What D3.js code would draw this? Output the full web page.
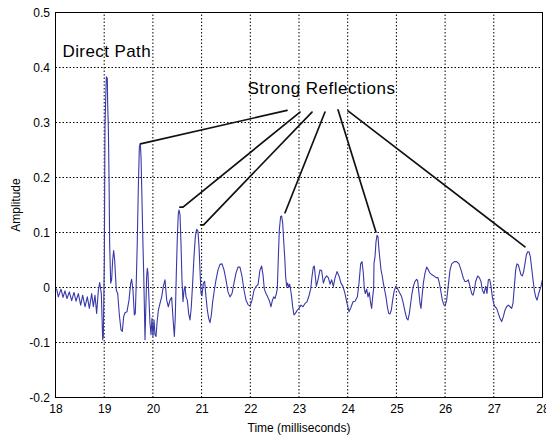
<!DOCTYPE html>
<html>
<head>
<meta charset="utf-8">
<script src="https://cdn.jsdelivr.net/npm/d3@7/dist/d3.min.js"></script>
<style>
  body { margin: 0; background: #fff; }
  svg { display: block; }
  text { font-family: "Liberation Sans", Arial, Helvetica, sans-serif; fill: #000; }
</style>
</head>
<body>
<svg id="chart" width="546" height="437"></svg>
<script>
// Measured impulse response: time in milliseconds, amplitude (linear)
const timeMs = [
  18.000, 18.024, 18.058, 18.113, 18.154, 18.195, 18.236, 18.284, 18.332, 18.380,
  18.421, 18.469, 18.517, 18.558, 18.606, 18.654, 18.695, 18.743, 18.777, 18.811,
  18.845, 18.880, 18.907, 18.941, 18.969, 18.982, 19.003, 19.016, 19.030, 19.044,
  19.064, 19.071, 19.085, 19.099, 19.112, 19.133, 19.153, 19.174, 19.194, 19.215,
  19.229, 19.249, 19.277, 19.311, 19.345, 19.372, 19.400, 19.427, 19.468, 19.509,
  19.544, 19.564, 19.591, 19.619, 19.639, 19.660, 19.680, 19.701, 19.722, 19.742,
  19.756, 19.776, 19.797, 19.811, 19.825, 19.838, 19.852, 19.872, 19.886, 19.899,
  19.920, 19.940, 19.961, 19.981, 20.002, 20.023, 20.043, 20.064, 20.084, 20.112,
  20.146,
  20.180, 20.214, 20.248, 20.283, 20.317, 20.351, 20.385, 20.420, 20.440, 20.460,
  20.481, 20.502, 20.522, 20.536, 20.557, 20.577, 20.597, 20.618, 20.639, 20.659,
  20.680, 20.707, 20.734, 20.762, 20.789, 20.816, 20.844, 20.871, 20.899, 20.926,
  20.947, 20.967, 20.988, 21.008, 21.036, 21.063, 21.090, 21.118, 21.145, 21.172,
  21.200, 21.227, 21.261, 21.296, 21.337, 21.378, 21.419, 21.460, 21.501, 21.542,
  21.583, 21.624, 21.665, 21.706, 21.747, 21.788, 21.830, 21.871, 21.912, 21.953,
  21.994, 22.035, 22.076, 22.117, 22.158,
  22.199, 22.233, 22.261, 22.288, 22.322, 22.357, 22.391, 22.425, 22.452, 22.480,
  22.507, 22.535, 22.555, 22.576, 22.596, 22.623, 22.644, 22.665, 22.685, 22.706,
  22.726, 22.747, 22.767, 22.788, 22.808, 22.829, 22.849, 22.870, 22.897, 22.925,
  22.959, 23.000, 23.041, 23.082, 23.123, 23.164, 23.205, 23.240, 23.267, 23.294,
  23.315, 23.335, 23.356, 23.390, 23.431, 23.465, 23.500, 23.534, 23.568, 23.602,
  23.637, 23.671, 23.705, 23.739, 23.780, 23.821, 23.862, 23.903, 23.945, 23.986,
  24.027, 24.068, 24.109,
  24.150, 24.198, 24.232, 24.266, 24.294, 24.321, 24.342, 24.362, 24.389, 24.417,
  24.444, 24.472, 24.492, 24.513, 24.533, 24.540, 24.561, 24.581, 24.602, 24.622,
  24.643, 24.663, 24.684, 24.711, 24.732, 24.759, 24.786, 24.814, 24.841, 24.869,
  24.896, 24.923, 24.951, 24.985, 25.012, 25.040, 25.074, 25.108, 25.142, 25.177,
  25.211, 25.238, 25.266, 25.293, 25.320, 25.348, 25.382, 25.416, 25.437, 25.457,
  25.485, 25.505, 25.526, 25.553, 25.587, 25.622, 25.656, 25.690, 25.731, 25.772,
  25.813, 25.854, 25.882, 25.909, 25.943, 25.977, 26.005, 26.032,
  26.101, 26.135, 26.190, 26.238, 26.285, 26.327, 26.374, 26.409, 26.443, 26.477,
  26.511, 26.546, 26.573, 26.600, 26.628, 26.669, 26.703, 26.737, 26.765, 26.799,
  26.833, 26.860, 26.888, 26.915, 26.943, 26.970, 26.997, 27.025, 27.059, 27.093,
  27.127, 27.162, 27.196, 27.230, 27.264, 27.298, 27.333, 27.367, 27.394, 27.422,
  27.449, 27.476, 27.504, 27.531, 27.559, 27.586, 27.613, 27.641, 27.668, 27.695,
  27.723, 27.750, 27.778, 27.805, 27.832, 27.860, 27.887, 27.914, 27.942, 27.969,
  27.997
];

const amplitude = [
  -0.002, -0.003, -0.017, -0.003, -0.018, -0.006, -0.020, -0.008, -0.024, -0.009,
  -0.025, -0.011, -0.032, -0.014, -0.035, -0.017, -0.038, -0.011, -0.035, -0.014,
  -0.047, -0.005,  0.009, -0.011, -0.095, -0.089,  0.050,  0.292,  0.341,  0.383,
   0.380,  0.335,  0.292,  0.202,  0.080,  0.008,  0.014,  0.050,  0.067,  0.050,
   0.026, -0.005, -0.011, -0.050, -0.077, -0.080, -0.053, -0.046, -0.044, -0.023,
   0.008,  0.015, -0.005, -0.050, -0.047,  0.014,  0.086,  0.183,  0.256,  0.261,
   0.238,  0.159,  0.074,  0.026, -0.035, -0.095, -0.047,  0.020,  0.035,  0.026,
  -0.023, -0.065, -0.086, -0.056, -0.089, -0.059, -0.086, -0.089, -0.065, -0.041,
  -0.029,
  -0.017,  0.002,  0.014, -0.023, -0.035, -0.023, -0.018, -0.065, -0.089, -0.053,
   0.026,  0.092,  0.135,  0.141,  0.132,  0.080,  0.014, -0.026, -0.005,  0.002,
  -0.017, -0.023, -0.047, -0.059, -0.035,  0.008,  0.056,  0.092,  0.106,  0.102,
   0.074,  0.032, -0.011, -0.015,  0.008,  0.011, -0.017, -0.041, -0.056, -0.064,
  -0.050, -0.026, -0.005,  0.014,  0.032,  0.042,  0.043,  0.032,  0.014, -0.008,
  -0.017, -0.011,  0.008,  0.026,  0.037,  0.037,  0.020, -0.005, -0.023, -0.031,
  -0.034, -0.023, -0.005,  0.002,  0.005,
   0.032,  0.039,  0.023, -0.003, -0.011, -0.017, -0.024, -0.035, -0.024, -0.017,
  -0.020, -0.011, -0.002,  0.056,  0.105,  0.129,  0.130,  0.117,  0.086,  0.056,
   0.020,  0.002,  0.008,  0.000,  0.006, -0.005, -0.017, -0.035, -0.050, -0.047,
  -0.042, -0.038, -0.032, -0.035, -0.029, -0.026, -0.015, -0.003,  0.020,  0.037,
   0.039,  0.020,  0.002,  0.014,  0.032,  0.031,  0.008,  0.017,  0.021,  0.018,
   0.006,  0.014,  0.002,  0.017,  0.029,  0.021,  0.008,  0.002, -0.011, -0.029,
  -0.044, -0.036, -0.026,
  -0.025, -0.017,  0.008,  0.043,  0.047,  0.026, -0.003, -0.011, -0.003, -0.017,
  -0.009, -0.029, -0.038, -0.017, -0.002,  0.044,  0.056,  0.083,  0.095,  0.092,
   0.068,  0.050,  0.032,  0.020,  0.008, -0.005, -0.017, -0.035, -0.047, -0.048,
  -0.041, -0.023, -0.008,  0.002,  0.000, -0.005, -0.011, -0.017, -0.029, -0.044,
  -0.056, -0.059, -0.047, -0.029, -0.011,  0.002,  0.011,  0.015,  0.012, -0.005,
  -0.029, -0.038, -0.017,  0.008,  0.026,  0.037,  0.032,  0.026,  0.023,  0.021,
   0.018,  0.018,  0.008, -0.005, -0.023, -0.032, -0.032, -0.023,
   0.032,  0.043,  0.047,  0.047,  0.043,  0.032,  0.017,  0.011,  0.011,  0.014,
   0.002, -0.011, -0.014, -0.005,  0.011,  0.021,  0.018,  0.011, -0.005, -0.011,
   0.002, -0.011,  0.014,  0.015,  0.002, -0.017, -0.029, -0.035, -0.038, -0.047,
  -0.056, -0.062, -0.053, -0.041, -0.035, -0.032, -0.035, -0.038, -0.029,  0.002,
   0.032,  0.043,  0.041,  0.032,  0.023,  0.021,  0.029,  0.044,  0.059,  0.065,
   0.065,  0.056,  0.035,  0.014, -0.005, -0.017, -0.023, -0.014, -0.005,  0.002,
   0.014
];

// Axis ticks
const xTickValues = [18, 19, 20, 21, 22, 23, 24, 25, 26, 27, 28];
const xTickLabels = ["18", "19", "20", "21", "22", "23", "24", "25", "26", "27", "28"];
const yTickValues = [-0.2, -0.1, 0, 0.1, 0.2, 0.3, 0.4, 0.5];
const yTickLabels = ["-0.2", "-0.1", "0", "0.1", "0.2", "0.3", "0.4", "0.5"];

// Callouts: each line runs from a reflection peak up to the "Strong Reflections" label
const calloutTipTime = [19.745, 20.556, 20.980, 22.713, 24.580, 27.640];
const calloutTipAmp  = [0.261, 0.146, 0.114, 0.136, 0.101, 0.074];
const calloutTopTime = [22.754, 23.021, 23.267, 23.534, 23.801, 24.006];
const calloutTopAmp  = [0.322, 0.319, 0.319, 0.319, 0.323, 0.321];

const W = 546, H = 437;
const margin = { left: 55.5, right: 3.5, top: 12.5, bottom: 39.5 };

const x = d3.scaleLinear().domain([18, 28]).range([margin.left, W - margin.right]);
const y = d3.scaleLinear().domain([-0.2, 0.5]).range([H - margin.bottom, margin.top]);

const svg = d3.select("#chart");
svg.append("rect").attr("width", W).attr("height", H).attr("fill", "#fff");

// Dotted grid
const grid = svg.append("g").attr("stroke", "#000").attr("stroke-width", 1)
  .attr("stroke-dasharray", "1.5,2");
grid.selectAll("line.gx").data(xTickValues.slice(1, -1)).join("line")
  .attr("x1", d => x(d)).attr("x2", d => x(d))
  .attr("y1", y(-0.2)).attr("y2", y(0.5));
grid.selectAll("line.gy").data(yTickValues.slice(1, -1)).join("line")
  .attr("x1", x(18)).attr("x2", x(28))
  .attr("y1", d => y(d)).attr("y2", d => y(d));

// Waveform
const pts = timeMs.map((t, i) => [t, amplitude[i]]);
svg.append("path")
  .datum(pts)
  .attr("fill", "none")
  .attr("stroke", "#3838a8")
  .attr("stroke-width", 1.1)
  .attr("stroke-linejoin", "round")
  .attr("d", d3.line().x(d => x(d[0])).y(d => y(d[1])));

// Axes
const fontSize = 12;
const xAxis = d3.axisBottom(x).tickValues(xTickValues)
  .tickFormat((d, i) => xTickLabels[i]).tickSize(0).tickPadding(6.5);
const gx = svg.append("g").attr("transform", `translate(0,${y(-0.2)})`).call(xAxis);
gx.select(".domain").remove();
gx.selectAll("text").attr("font-size", fontSize).attr("font-family", null);

const yAxis = d3.axisLeft(y).tickValues(yTickValues)
  .tickFormat((d, i) => yTickLabels[i]).tickSize(0).tickPadding(5.5);
const gy = svg.append("g").attr("transform", `translate(${x(18)},0)`).call(yAxis);
gy.select(".domain").remove();
gy.selectAll("text").attr("font-size", fontSize).attr("font-family", null);

// Frame
svg.append("rect")
  .attr("x", x(18)).attr("y", y(0.5))
  .attr("width", x(28) - x(18)).attr("height", y(-0.2) - y(0.5))
  .attr("fill", "none").attr("stroke", "#000").attr("stroke-width", 1);

// Axis titles
svg.append("text")
  .attr("x", (x(18) + x(28)) / 2).attr("y", 431.5)
  .attr("text-anchor", "middle").attr("font-size", 12)
  .text("Time (milliseconds)");
svg.append("text")
  .attr("transform", `translate(19.5,${(y(-0.2) + y(0.5)) / 2}) rotate(-90)`)
  .attr("text-anchor", "middle").attr("font-size", 12)
  .text("Amplitude");

// Annotations
svg.append("text")
  .attr("x", 62.5).attr("y", 57)
  .attr("font-size", 17).attr("letter-spacing", 0.4)
  .text("Direct Path");
svg.append("text")
  .attr("x", 247.5).attr("y", 94.3)
  .attr("font-size", 17).attr("letter-spacing", 0.5)
  .text("Strong Reflections");

const callouts = svg.append("g").attr("stroke", "#111").attr("stroke-width", 1.7)
  .attr("fill", "none").attr("stroke-linecap", "round");
calloutTipTime.forEach((t, i) => {
  const tx = x(t), ty = y(calloutTipAmp[i]);
  const ux = x(calloutTopTime[i]), uy = y(calloutTopAmp[i]);
  // short horizontal hook at the tip, as drawn on the two middle-left callouts
  const hook = (i === 1 || i === 2) ? [[tx + 3, ty]] : [];
  callouts.append("path")
    .attr("d", d3.line()([[tx, ty], ...hook, [ux, uy]]));
});
</script>
</body>
</html>
